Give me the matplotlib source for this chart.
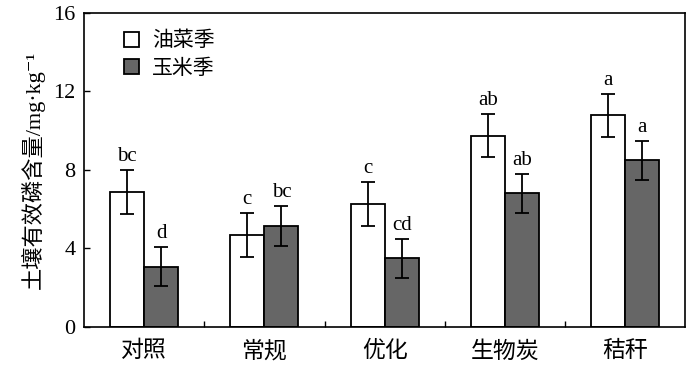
import matplotlib.pyplot as plt
import numpy as np

plt.rcParams['font.family'] = ['Liberation Serif', 'Noto Sans CJK SC', 'DejaVu Serif']

categories = ['对照', '常规', '优化', '生物炭', '秸秆']
rape = [6.9, 4.7, 6.25, 9.75, 10.78]
rape_err = [1.12, 1.13, 1.12, 1.1, 1.1]
maize = [3.08, 5.15, 3.5, 6.8, 8.48]
maize_err = [1.0, 1.0, 1.0, 1.0, 1.0]
rape_letters = ['bc', 'c', 'c', 'ab', 'a']
maize_letters = ['d', 'bc', 'cd', 'ab', 'a']

fig = plt.figure(figsize=(7, 3.67), dpi=100)
ax = fig.add_axes([0.12, 0.109, 0.859, 0.856])

x = np.arange(len(categories))
width = 0.283
ekw = dict(elinewidth=1.3, capsize=5, capthick=1.3, ecolor='black')
ax.bar(x - width/2, rape, width, yerr=rape_err, color='white', edgecolor='black',
       linewidth=1.3, error_kw=ekw, label='油菜季')
ax.bar(x + width/2, maize, width, yerr=maize_err, color='#666666', edgecolor='black',
       linewidth=1.3, error_kw=ekw, label='玉米季')

# significance letters
for i in range(len(categories)):
    ax.text(x[i] - width/2, rape[i] + rape_err[i] + 0.2, rape_letters[i],
            ha='center', va='bottom', fontsize=15)
    ax.text(x[i] + width/2, maize[i] + maize_err[i] + 0.2, maize_letters[i],
            ha='center', va='bottom', fontsize=15)

ax.set_xlim(-0.5, 4.5)
ax.set_ylim(0, 16)
ax.set_yticks([0, 4, 8, 12, 16])
ax.set_xticks(x)
ax.set_xticklabels(categories, fontsize=16.5)
ax.set_xticks(np.arange(0.5, 4.5, 1), minor=True)
ax.tick_params(axis='x', which='major', length=0, pad=10)
ax.tick_params(axis='x', which='minor', direction='in', length=4, width=1)
ax.tick_params(axis='y', direction='in', length=4, width=1, labelsize=16, pad=6)
for s in ax.spines.values():
    s.set_linewidth(1.2)

ax.set_ylabel('土壤有效磷含量/mg·kg⁻¹', fontsize=16, labelpad=6)

ax.legend(loc='upper left', bbox_to_anchor=(0.035, 1.0), frameon=False, fontsize=15,
          handlelength=0.75, handleheight=0.75, handletextpad=0.6, labelspacing=0.35)

fig.savefig('out.png', dpi=100)
